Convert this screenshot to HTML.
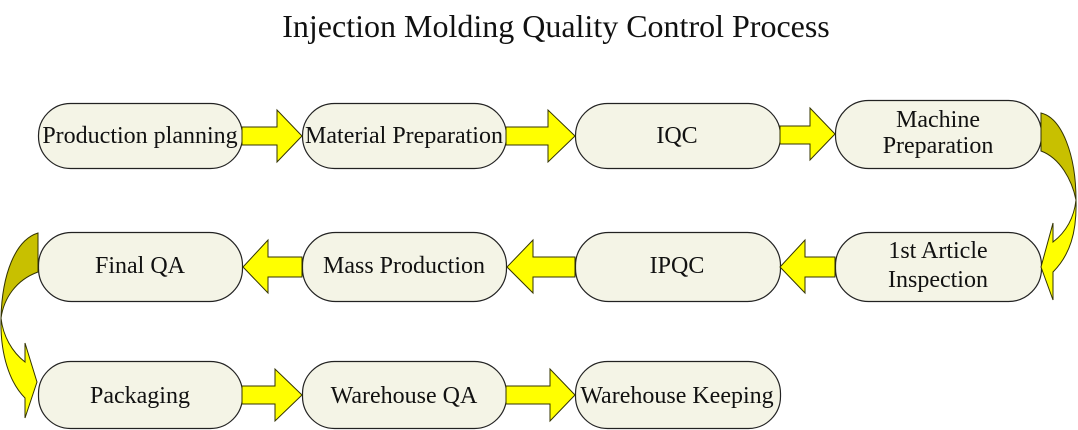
<!DOCTYPE html>
<html>
<head>
<meta charset="utf-8">
<style>
  html, body { margin:0; padding:0; background:#ffffff; }
  body { width:1078px; height:430px; overflow:hidden; }
  svg { display:block; }
  text { font-family: "Liberation Serif", "Times New Roman", serif; fill:#111; }
</style>
</head>
<body>
<svg width="1078" height="430" viewBox="0 0 1078 430" xmlns="http://www.w3.org/2000/svg">
  <!-- Title -->
  <text x="556" y="37" font-size="32" text-anchor="middle">Injection Molding Quality Control Process</text>

  <!-- Boxes -->
  <g fill="#f4f4e6" stroke="#222" stroke-width="1.2">
    <rect x="38.5" y="103.5" width="204" height="65" rx="32" ry="32"/>
    <rect x="302.5" y="103.5" width="204" height="65" rx="32" ry="32"/>
    <rect x="575.5" y="103.5" width="205" height="65" rx="32" ry="32"/>
    <rect x="835.5" y="100.5" width="206" height="68" rx="33" ry="33"/>

    <rect x="38.5" y="232.5" width="204" height="69" rx="33" ry="33"/>
    <rect x="302.5" y="232.5" width="204" height="69" rx="33" ry="33"/>
    <rect x="575.5" y="232.5" width="205" height="69" rx="33" ry="33"/>
    <rect x="835.5" y="232.5" width="206" height="69" rx="33" ry="33"/>

    <rect x="38.5" y="361.5" width="204" height="67" rx="32" ry="32"/>
    <rect x="302.5" y="361.5" width="204" height="67" rx="32" ry="32"/>
    <rect x="575.5" y="361.5" width="205" height="67" rx="32" ry="32"/>
  </g>

  <!-- Straight arrows -->
  <g fill="#ffff00" stroke="#333300" stroke-width="1" stroke-linejoin="miter">
    <!-- Row 1 (right-pointing) -->
    <polygon points="242,127 277,127 277,110 302,136 277,162 277,145 242,145"/>
    <polygon points="506,127 548,127 548,110 575,136 548,162 548,145 506,145"/>
    <polygon points="780,126 810,126 810,108 835,134 810,160 810,144 780,144"/>
    <!-- Row 2 (left-pointing) -->
    <polygon points="302,257 268,257 268,240 243,267 268,293 268,277 302,277"/>
    <polygon points="575,257 533,257 533,240 507,267 533,293 533,277 575,277"/>
    <polygon points="835,257 805,257 805,240 780,267 805,293 805,277 835,277"/>
    <!-- Row 3 (right-pointing) -->
    <polygon points="242,386 275,386 275,369 302,395 275,421 275,404 242,404"/>
    <polygon points="506,386 550,386 550,369 575,395 550,421 550,404 506,404"/>
  </g>

  <!-- Right curved arrow (Machine Preparation -> 1st Article Inspection) -->
  <g stroke="#333300" stroke-width="1" stroke-linejoin="miter">
    <path d="M1041,113 C1062,118 1076,155 1076,200 C1072,180 1060,158 1041,151 Z" fill="#c8c000"/>
    <path d="M1076,200 C1077,232 1070,255 1053,272 L1053,300 L1041,267 L1053,223 L1053,242 C1066,232 1074,218 1076,200 Z" fill="#ffff00"/>
  </g>

  <!-- Left curved arrow (Final QA -> Packaging) -->
  <g stroke="#333300" stroke-width="1" stroke-linejoin="miter">
    <path d="M38,233 C15,240 2,275 1,318 C4,298 16,280 38,272 Z" fill="#c8c000"/>
    <path d="M1,318 C0,355 10,383 25,398 L25,418 L37,382 L25,343 L25,362 C12,352 3,336 1,318 Z" fill="#ffff00"/>
  </g>

  <!-- Labels -->
  <g font-size="24" text-anchor="middle">
    <text x="140" y="143">Production planning</text>
    <text x="404" y="143">Material Preparation</text>
    <text x="677" y="143">IQC</text>
    <text x="938" y="127">Machine</text>
    <text x="938" y="153">Preparation</text>

    <text x="140" y="273">Final QA</text>
    <text x="404" y="273">Mass Production</text>
    <text x="677" y="273">IPQC</text>
    <text x="938" y="258">1st Article</text>
    <text x="938" y="287">Inspection</text>

    <text x="140" y="403">Packaging</text>
    <text x="404" y="403">Warehouse QA</text>
    <text x="677" y="403">Warehouse Keeping</text>
  </g>
</svg>
</body>
</html>
